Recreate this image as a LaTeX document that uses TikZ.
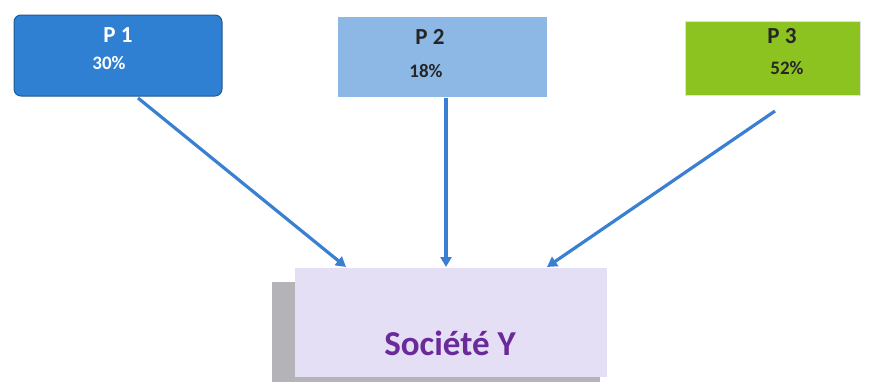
\documentclass[tikz,border=0pt]{standalone}
\usepackage{fontspec}
\setmainfont{Carlito}
\usetikzlibrary{arrows.meta}
\definecolor{pone}{HTML}{2F7FD2}
\definecolor{ptwo}{HTML}{8DB8E6}
\definecolor{pthree}{HTML}{8CC320}
\definecolor{soc}{HTML}{E4DFF4}
\definecolor{socshadow}{HTML}{B4B4B8}
\definecolor{arr}{HTML}{3A80D2}
\definecolor{purpletext}{HTML}{6A2A9A}
\begin{document}
\begin{tikzpicture}[x=1pt,y=-1pt,
  lbl/.style={font=\bfseries\fontsize{23}{25}\selectfont,inner sep=0pt,anchor=base},
  pct/.style={font=\bfseries\fontsize{19}{21}\selectfont,inner sep=0pt,anchor=base},
  conn/.style={draw=arr,line width=3.2pt,-{Triangle[length=10pt,width=11pt]}}]
\useasboundingbox (0,0) rectangle (872,384);
% boxes
\node[draw=pone!70!black,line width=1pt,fill=pone,rounded corners=7pt,minimum width=208pt,minimum height=81pt,inner sep=0pt] (p1) at (118,55.5) {};
\node[fill=ptwo,minimum width=209pt,minimum height=80pt,inner sep=0pt] (p2) at (442.5,57) {};
\node[draw=black!12,line width=1pt,fill=pthree,minimum width=175pt,minimum height=74pt,inner sep=0pt] (p3) at (772.5,58) {};
\fill[socshadow] (272,282) rectangle (600,382);
\node[fill=soc,minimum width=312pt,minimum height=109pt,inner sep=0pt] (soc) at (451,322.5) {};
% texts
\node[lbl,text=white] (t1) at (118,42) {P 1};
\node[pct,text=white] (v1) at (109,69) {30\%};
\node[lbl,text=black!85] (t2) at (430,44) {P 2};
\node[pct,text=black!85] (v2) at (426,77) {18\%};
\node[lbl,text=black!85] (t3) at (782,43) {P 3};
\node[pct,text=black!85] (v3) at (787,74) {52\%};
\node[font=\bfseries\fontsize{35}{38}\selectfont,text=purpletext,inner sep=0pt,anchor=base] (st) at (450,355) {Société Y};
% connectors
\coordinate (a1) at (138,98);
\coordinate (a2) at (446,98);
\coordinate (a3) at (775,111);
\coordinate (e1) at (346,267);
\coordinate (e2) at (446,267);
\coordinate (e3) at (547,267);
\draw[conn] (a1) -- (e1);
\draw[conn] (a2) -- (e2);
\draw[conn] (a3) -- (e3);
\end{tikzpicture}
\end{document}
